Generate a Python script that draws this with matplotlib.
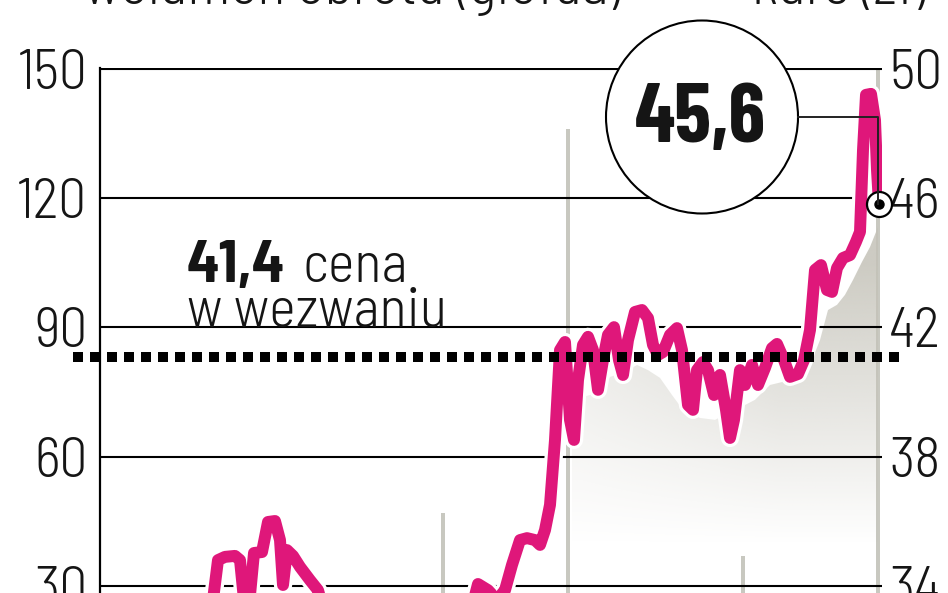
import matplotlib
matplotlib.use("Agg")
import matplotlib.pyplot as plt
import matplotlib.font_manager as fm
import matplotlib.patheffects as pe
from matplotlib.patches import Ellipse
from matplotlib.lines import Line2D
import numpy as np

# ---------------- data ----------------
# trading-day index of each price reading and the price (zł, right axis)
price_days = [25.0, 28.25, 29.5, 31.25, 33.75, 35.0, 36.0, 37.5, 38.5, 40.5, 42.0, 43.75,
              45.0, 45.75, 46.75, 48.25, 50.0, 52.5, 54.5, 56.25,
              92.5, 94.5, 97.0, 99.25, 101.25, 103.0, 105.0, 106.75, 108.75, 110.0, 111.25,
              112.5, 113.75, 115.0, 116.25, 117.5, 118.5, 119.5, 120.75, 122.0, 123.25,
              124.5, 125.75, 127.0, 128.5, 129.75, 130.75, 132.0, 133.75, 135.5, 137.0,
              138.25, 139.5, 140.75, 142.5, 144.25, 145.5, 147.0, 148.25, 149.25, 150.75,
              152.0, 153.5, 155.0, 156.5, 157.5, 158.5, 160.0, 161.25, 163.0, 164.5,
              166.25, 168.0, 169.25, 171.0, 172.5, 174.5, 176.0, 177.5, 178.75, 180.25,
              181.75, 183.0, 184.25, 185.75, 187.5, 189.0, 190.0, 190.75, 191.5, 192.75,
              193.75, 194.25, 194.75]
price_vals = [33.26, 33.57, 34.80, 34.90, 34.93, 34.80, 33.57, 33.72, 35.02, 35.05, 35.98, 36.01,
              35.42, 34.03, 35.11, 34.93, 34.59, 34.18, 33.87, 33.10,
              33.10, 34.06, 33.87, 33.57, 33.87, 34.65, 35.42, 35.48, 35.42, 35.27, 35.73,
              36.51, 38.52, 41.30, 41.55, 39.14, 38.52, 40.37, 41.46, 41.71, 41.30,
              40.07, 40.99, 41.77, 42.01, 40.99, 40.53, 41.61, 42.48, 42.54, 42.29,
              41.46, 41.15, 41.24, 41.77, 41.98, 41.30, 39.60, 39.45, 40.68, 40.93,
              40.68, 39.91, 40.53, 39.45, 38.58, 39.14, 40.68, 40.22, 40.84, 40.22,
              40.75, 41.36, 41.49, 40.99, 40.47, 40.56, 40.99, 41.92, 43.78, 43.93,
              43.16, 43.10, 43.84, 44.15, 44.24, 44.65, 44.96, 47.49, 49.20, 49.23,
              48.42, 46.87, 45.82]

# grey shaded band behind the recent part of the price line (right axis)
shade_days = [118.0, 122.5, 125.0, 127.5, 131.25, 134.25, 137.0, 140.0, 143.0, 145.75,
              150.0, 153.75, 157.5, 161.25, 163.75, 167.5, 172.5, 175.75, 178.0, 180.0,
              182.0, 184.25, 186.25, 188.25, 190.5, 192.5, 194.5]
shade_vals = [39.76, 39.91, 40.07, 40.47, 40.62, 40.84, 40.68, 40.44, 39.91, 39.45,
              39.20, 39.14, 39.38, 39.60, 39.76, 40.22, 40.37, 40.47, 40.99, 41.61,
              42.54, 42.70, 43.01, 43.47, 44.03, 44.49, 45.11]

# volume bars (left axis)
volume_days = [85.75, 117.0, 160.75, 194.5]
volume_vals = [47, 136, 37, 150]

offer_level = 41.1          # dotted line "cena w wezwaniu"
offer_label = "41,4"
last_label = "45,6"

left_ticks = [30, 60, 90, 120, 150]
right_ticks = [34, 38, 42, 46, 50]
legend_volume = "wolumen obrotu (giełda)"
legend_price = "kurs (zł)"

# ---------------- fonts ----------------
ents = fm.fontManager.ttflist


def font_path(cands):
    for c in cands:
        for f in ents:
            if f.fname.endswith("/" + c):
                return f.fname
    return None


REG = font_path(["BarlowSemiCondensed-Light.ttf", "BarlowSemiCondensed-Regular.ttf",
                 "BarlowCondensed-Light.ttf", "DejaVuSansCondensed.ttf"])
BOLD = font_path(["BarlowSemiCondensed-Bold.ttf", "BarlowCondensed-Bold.ttf",
                  "DejaVuSansCondensed-Bold.ttf"])
BOLD_NARROW = font_path(["BarlowCondensed-Bold.ttf", "BarlowSemiCondensed-Bold.ttf",
                         "DejaVuSansCondensed-Bold.ttf"])


def fp(path, size, bold=False):
    if path:
        return fm.FontProperties(fname=path, size=size)
    return fm.FontProperties(family="DejaVu Sans", size=size * 0.75,
                             weight="bold" if bold else "normal")


PINK = "#df177a"
GREY_BAR = "#c8c8c0"
INK = "#151515"
W, H = 948, 593

fig = plt.figure(figsize=(W / 100, H / 100), dpi=100)
ax = fig.add_axes([100 / W, 0, 782 / W, (H - 68.0) / H])
ax.set_xlim(0, 195.5)
ax.set_ylim(28.35, 150.225)

ax.bar(volume_days, volume_vals, width=1.1, color=GREY_BAR, zorder=1)

for s in ["top", "right", "bottom"]:
    ax.spines[s].set_visible(False)
ax.spines["left"].set_linewidth(1.6)
ax.spines["left"].set_color("black")
ax.set_yticks(left_ticks)
ax.set_yticklabels([str(t) for t in left_ticks])
ax.tick_params(axis="y", length=0, pad=9, labelcolor=INK)
ax.tick_params(axis="x", bottom=False, labelbottom=False)
for lbl in ax.get_yticklabels():
    lbl.set_fontproperties(fp(REG, 40))

ax2 = ax.twinx()
bot2, top2 = 33.782, 50.03
for s in ["top", "right", "bottom", "left"]:
    ax2.spines[s].set_visible(False)

# shaded gradient band
ext = [shade_days[0], shade_days[-1], bot2, max(shade_vals)]
nx, ny = 300, 300
D, V = np.meshgrid(np.linspace(ext[0], ext[1], nx), np.linspace(ext[2], ext[3], ny))
fy = np.clip((V - 35.3) / (44.0 - 35.3), 0, 1)
fx = 0.45 + 0.4 * np.clip((D - 120) / 50, 0, 1)
rgba = np.zeros((ny, nx, 4))
rgba[..., 0], rgba[..., 1], rgba[..., 2] = 196 / 255, 194 / 255, 184 / 255
rgba[..., 3] = fy * fx
img = ax2.imshow(rgba, extent=ext, origin="lower", aspect="auto", zorder=0.3,
                 interpolation="bilinear")
poly = ax2.fill_between(shade_days, shade_vals, bot2, facecolor="none", edgecolor="none")
img.set_clip_path(poly.get_paths()[0], ax2.transData)

ax2.set_xlim(0, 195.5)
ax2.set_ylim(bot2, top2)
ax2.set_yticks(right_ticks)
ax2.set_yticklabels([str(t) for t in right_ticks])
ax2.tick_params(axis="y", length=0, pad=5, labelcolor=INK)
for lbl in ax2.get_yticklabels():
    lbl.set_fontproperties(fp(REG, 40))
ax2.set_axisbelow(True)
ax2.grid(axis="y", color="black", linewidth=1.5)
ax2.grid(axis="x", visible=False)

# price line with white halo
ax2.plot(price_days, price_vals, color=PINK, lw=8.6, solid_joinstyle="round",
         solid_capstyle="round", zorder=3,
         path_effects=[pe.Stroke(linewidth=13.2, foreground="white"), pe.Normal()])

# dotted offer-price line
ax2.axhline(offer_level, xmin=-0.035, xmax=1.023, color="black", lw=7.2,
            dashes=(1, 0.7), dash_capstyle="butt", clip_on=False, zorder=4)

# texts for offer price
fig.text(187 / W, 1 - 282 / H, offer_label, fontproperties=fp(BOLD, 43, True),
         va="baseline", ha="left", color=INK)
fig.text(303 / W, 1 - 282 / H, "cena", fontproperties=fp(REG, 41),
         va="baseline", ha="left", color=INK)
fig.text(187 / W, 1 - 327 / H, "w wezwaniu", fontproperties=fp(REG, 41),
         va="baseline", ha="left", color=INK)

# legend texts (cut by the top edge)
fig.text(621 / W, 1 - 4 / H, legend_volume, fontproperties=fp(REG, 42),
         va="baseline", ha="right", color=INK)
fig.text(927 / W, 1 - 4 / H, legend_price, fontproperties=fp(REG, 42),
         va="baseline", ha="right", color=INK)

# last price annotation
circ = Ellipse((702 / W, 1 - 117 / H), 192 / W, 193 / H, transform=fig.transFigure,
               facecolor="white", edgecolor="black", lw=1.5, zorder=10)
fig.add_artist(circ)
fig.text(700 / W, 1 - 142 / H, last_label, fontproperties=fp(BOLD_NARROW, 60, True),
         ha="center", va="baseline", zorder=11, color=INK)

disp = ax2.transData.transform((price_days[-1], price_vals[-1]))
mx, my = fig.transFigure.inverted().transform(disp)
lead = Line2D([798 / W, mx - 1.5 / W, mx - 1.5 / W], [1 - 117 / H, 1 - 117 / H, my],
              transform=fig.transFigure, color="#222222", lw=1.4, zorder=11)
fig.add_artist(lead)
ax2.plot([price_days[-1]], [price_vals[-1]], marker="o", ms=18, mfc="white", mec="black",
         mew=1.6, zorder=12, clip_on=False)
ax2.plot([price_days[-1]], [price_vals[-1]], marker="o", ms=6.5, mfc="black", mec="black",
         zorder=13, clip_on=False)

fig.savefig("out.png", dpi=100)
